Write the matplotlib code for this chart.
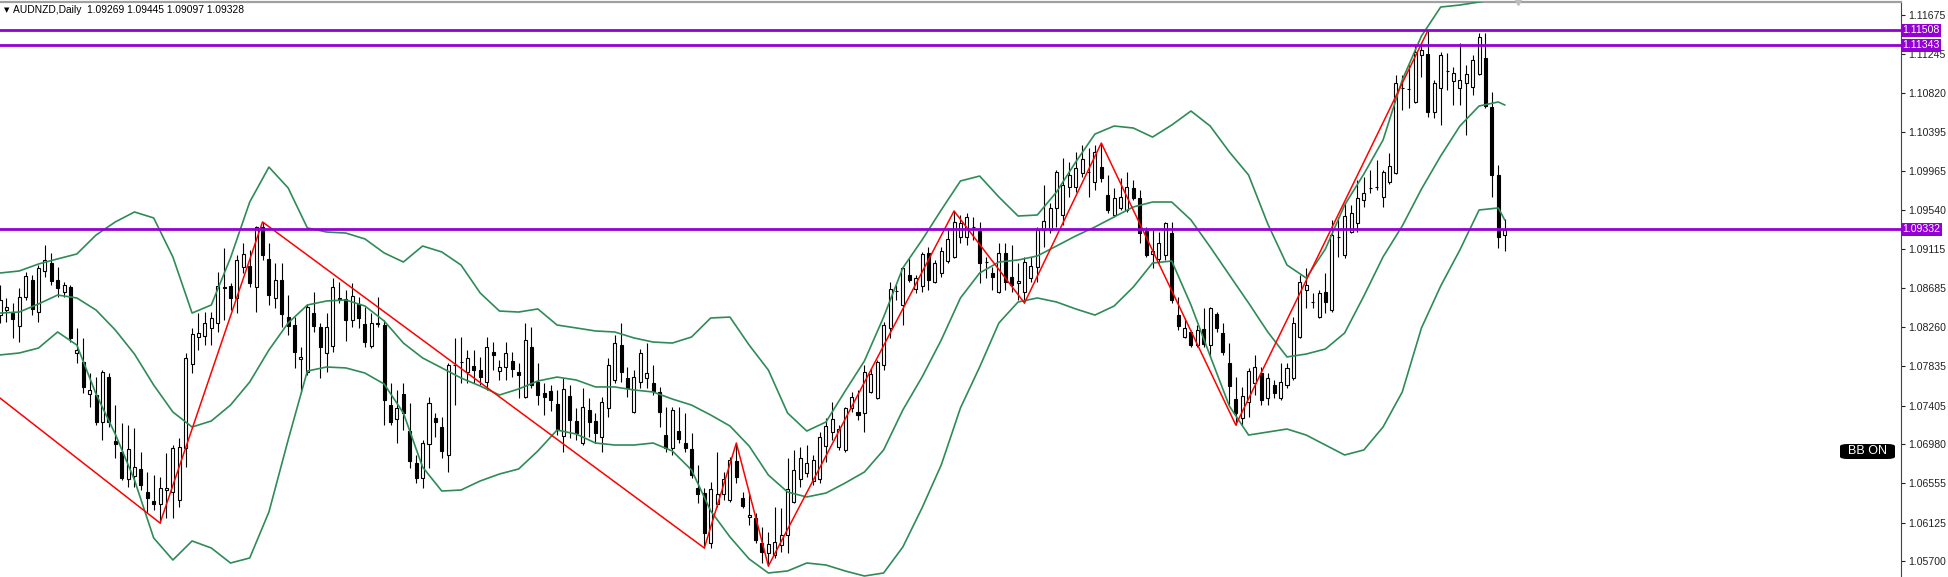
import numpy as np
import matplotlib.pyplot as plt
from matplotlib.patches import FancyBboxPatch

# AUDNZD daily candles (oldest first)
opens = [
    1.08394, 1.08449, 1.08416, 1.08274, 1.08591, 1.08777, 1.08427, 1.08876, 1.08963, 1.08777,
    1.08646, 1.08700, 1.07979, 1.07881, 1.07531, 1.07520, 1.07225, 1.07716, 1.07017, 1.06897,
    1.06602, 1.06634, 1.06711, 1.06459, 1.06361, 1.06328, 1.06481, 1.06459, 1.06372, 1.06941,
    1.07859, 1.08154, 1.08165, 1.08253, 1.08307, 1.08700, 1.08711, 1.08581, 1.08919, 1.08930,
    1.08700, 1.09357, 1.09008, 1.08581, 1.08777, 1.08372, 1.08285, 1.07914, 1.07771, 1.08416,
    1.08263, 1.07979, 1.08055, 1.08581, 1.08570, 1.08340, 1.08515, 1.08296, 1.08055, 1.08296,
    1.08285, 1.07410, 1.07258, 1.07531, 1.07126, 1.06776, 1.06613, 1.06984, 1.07269, 1.07170,
    1.06864, 1.07848, 1.07881, 1.07771, 1.07837, 1.07793, 1.07662, 1.07990, 1.07782, 1.07826,
    1.07892, 1.07771, 1.07498, 1.08044, 1.07662, 1.07542, 1.07564, 1.07421, 1.07072, 1.07509,
    1.07236, 1.06995, 1.07356, 1.07236, 1.07061, 1.07378, 1.07684, 1.08066, 1.07706, 1.07334,
    1.07662, 1.07706, 1.07651, 1.07553, 1.07082, 1.06941, 1.07126, 1.06995, 1.06930, 1.06504,
    1.06448, 1.05902, 1.06328, 1.06437, 1.06372, 1.06798, 1.06394, 1.06186, 1.06176, 1.05902,
    1.05792, 1.05770, 1.05880, 1.05989, 1.06350, 1.06602, 1.06667, 1.06580, 1.06602, 1.06962,
    1.07115, 1.06951, 1.06919, 1.07378, 1.07334, 1.07323, 1.07553, 1.07487, 1.07848, 1.08253,
    1.08657, 1.08504, 1.08832, 1.08679, 1.08711, 1.09073, 1.08755, 1.08854, 1.08985, 1.09030,
    1.09248, 1.09248, 1.09357, 1.09313, 1.08974, 1.08854, 1.08646, 1.09073, 1.08810, 1.08744,
    1.08646, 1.08799, 1.08919, 1.09324, 1.09324, 1.09565, 1.09488, 1.09794, 1.09794, 1.09947,
    1.09958, 1.09849, 1.10013, 1.09707, 1.09488, 1.09565, 1.09543, 1.09783, 1.09674, 1.09313,
    1.09062, 1.09008, 1.09051, 1.09291, 1.08394, 1.08154, 1.08209, 1.08066, 1.08242, 1.08066,
    1.08405, 1.08198, 1.07870, 1.07476, 1.07269, 1.07443, 1.07651, 1.07760, 1.07487, 1.07629,
    1.07487, 1.07629, 1.07706, 1.08154, 1.08668, 1.08537, 1.08372, 1.08646, 1.08449, 1.09248,
    1.09051, 1.09302, 1.09401, 1.09652, 1.09783, 1.09794, 1.09685, 1.09849, 1.09947, 1.10877,
    1.10866, 1.10724, 1.11237, 1.11248, 1.10614, 1.10877, 1.11063, 1.10953, 1.10877, 1.10931,
    1.10888, 1.11030, 1.11205, 1.10669, 1.09925, 1.09269,
]
highs = [
    1.08722, 1.08581, 1.08526, 1.08690, 1.08865, 1.08832, 1.08941, 1.09160, 1.09073, 1.08919,
    1.08755, 1.08722, 1.08253, 1.08144, 1.07760, 1.07716, 1.07793, 1.07760, 1.07410, 1.07214,
    1.07192, 1.07160, 1.06897, 1.06678, 1.06645, 1.06623, 1.06886, 1.06973, 1.07050, 1.07979,
    1.08253, 1.08416, 1.08427, 1.08427, 1.08865, 1.09128, 1.08744, 1.09051, 1.09182, 1.09106,
    1.09368, 1.09412, 1.09182, 1.08963, 1.08963, 1.08613, 1.08372, 1.08044, 1.08515, 1.08646,
    1.08307, 1.08416, 1.08799, 1.08755, 1.08668, 1.08744, 1.08591, 1.08482, 1.08416, 1.08591,
    1.08340, 1.07651, 1.07575, 1.07651, 1.07432, 1.06864, 1.07028, 1.07498, 1.07323, 1.07280,
    1.07870, 1.08144, 1.08154, 1.08012, 1.08012, 1.07936, 1.08154, 1.08099, 1.07903, 1.08099,
    1.07990, 1.07870, 1.08307, 1.08263, 1.07870, 1.07651, 1.07629, 1.07575, 1.07706, 1.07629,
    1.07378, 1.07597, 1.07487, 1.07323, 1.07498, 1.07925, 1.08176, 1.08307, 1.07826, 1.07793,
    1.08023, 1.08088, 1.07848, 1.07608, 1.07388, 1.07388, 1.07388, 1.07323, 1.07104, 1.06754,
    1.06504, 1.06569, 1.06897, 1.06678, 1.06842, 1.06995, 1.06459, 1.06459, 1.06230, 1.06077,
    1.06022, 1.06295, 1.06285, 1.06832, 1.06919, 1.06951, 1.06973, 1.06864, 1.07115, 1.07269,
    1.07443, 1.07192, 1.07388, 1.07553, 1.07575, 1.07848, 1.07816, 1.07903, 1.08318, 1.08755,
    1.08722, 1.08919, 1.09018, 1.08832, 1.09084, 1.09139, 1.08996, 1.09139, 1.09346, 1.09532,
    1.09488, 1.09510, 1.09467, 1.09412, 1.09030, 1.08919, 1.09182, 1.09182, 1.09160, 1.08963,
    1.09030, 1.09030, 1.09357, 1.09816, 1.09619, 1.09980, 1.10112, 1.10068, 1.10177, 1.10253,
    1.10221, 1.10253, 1.10275, 1.09925, 1.09783, 1.09893, 1.09958, 1.09871, 1.09761, 1.09357,
    1.09324, 1.09302, 1.09412, 1.09412, 1.08591, 1.08362, 1.08231, 1.08285, 1.08471, 1.08482,
    1.08427, 1.08307, 1.08088, 1.07716, 1.07608, 1.07816, 1.07958, 1.07826, 1.07760, 1.07684,
    1.07870, 1.07870, 1.08372, 1.08832, 1.08909, 1.08635, 1.08668, 1.08854, 1.09434, 1.09467,
    1.09619, 1.09597, 1.09871, 1.09904, 1.09980, 1.10089, 1.09980, 1.10166, 1.11019, 1.11019,
    1.11128, 1.11347, 1.11369, 1.11505, 1.10964, 1.11270, 1.11259, 1.11106, 1.11369, 1.11128,
    1.11237, 1.11478, 1.11478, 1.10833, 1.10035, 1.09445,
]
lows = [
    1.08307, 1.08318, 1.08144, 1.08099, 1.08559, 1.08394, 1.08318, 1.08810, 1.08722, 1.08591,
    1.08591, 1.08099, 1.07870, 1.07542, 1.07388, 1.07192, 1.07028, 1.07170, 1.06832, 1.06591,
    1.06514, 1.06514, 1.06481, 1.06230, 1.06263, 1.06120, 1.06176, 1.06176, 1.06295, 1.06732,
    1.07760, 1.08012, 1.08066, 1.08066, 1.08209, 1.08340, 1.08449, 1.08416, 1.08854, 1.08700,
    1.08427, 1.08996, 1.08504, 1.08471, 1.08263, 1.08176, 1.07816, 1.07542, 1.07738, 1.08209,
    1.07706, 1.07771, 1.07990, 1.08526, 1.08110, 1.08263, 1.08253, 1.08044, 1.08033, 1.08263,
    1.07192, 1.07192, 1.06995, 1.07137, 1.06722, 1.06558, 1.06504, 1.06722, 1.07061, 1.06832,
    1.06678, 1.07410, 1.07651, 1.07651, 1.07651, 1.07629, 1.07575, 1.07793, 1.07684, 1.07684,
    1.07716, 1.07487, 1.07487, 1.07597, 1.07410, 1.07301, 1.07345, 1.07082, 1.06897, 1.07050,
    1.07028, 1.06973, 1.07061, 1.06995, 1.06897, 1.07280, 1.07651, 1.07662, 1.07498, 1.07323,
    1.07597, 1.07597, 1.07520, 1.07170, 1.06897, 1.06864, 1.06995, 1.06897, 1.06613, 1.06339,
    1.05847, 1.05847, 1.06295, 1.06372, 1.06350, 1.06558, 1.06285, 1.06099, 1.05902, 1.05683,
    1.05650, 1.05738, 1.05803, 1.05792, 1.06339, 1.06514, 1.06624, 1.06536, 1.06558, 1.06787,
    1.07028, 1.06919, 1.06897, 1.07334, 1.07247, 1.07115, 1.07542, 1.07476, 1.07793, 1.08144,
    1.08559, 1.08285, 1.08755, 1.08635, 1.08646, 1.08668, 1.08744, 1.08810, 1.08963, 1.09019,
    1.09182, 1.09160, 1.09215, 1.08744, 1.08799, 1.08668, 1.08635, 1.08668, 1.08646, 1.08559,
    1.08526, 1.08755, 1.08755, 1.09139, 1.09291, 1.09357, 1.09379, 1.09685, 1.09740, 1.09904,
    1.09685, 1.09761, 1.09849, 1.09510, 1.09467, 1.09543, 1.09521, 1.09652, 1.09182, 1.09030,
    1.08909, 1.08963, 1.08996, 1.08526, 1.08231, 1.08144, 1.08044, 1.08044, 1.08044, 1.07936,
    1.08209, 1.07958, 1.07410, 1.07192, 1.07192, 1.07280, 1.07520, 1.07410, 1.07410, 1.07487,
    1.07465, 1.07597, 1.07684, 1.08144, 1.08471, 1.08471, 1.08362, 1.08416, 1.08427, 1.09030,
    1.09019, 1.09291, 1.09302, 1.09576, 1.09728, 1.09761, 1.09576, 1.09827, 1.09936, 1.10636,
    1.10658, 1.10713, 1.10997, 1.10560, 1.10549, 1.10472, 1.10855, 1.10691, 1.10691, 1.10363,
    1.10800, 1.11019, 1.10658, 1.09685, 1.09128, 1.09097,
]
closes = [
    1.08559, 1.08482, 1.08351, 1.08591, 1.08821, 1.08461, 1.08909, 1.08996, 1.08766, 1.08690,
    1.08722, 1.08144, 1.08012, 1.07607, 1.07575, 1.07225, 1.07771, 1.07225, 1.06984, 1.06613,
    1.06930, 1.06732, 1.06536, 1.06394, 1.06328, 1.06504, 1.06504, 1.06941, 1.06951, 1.07925,
    1.08187, 1.08198, 1.08307, 1.08362, 1.08711, 1.08695, 1.08581, 1.08996, 1.09062, 1.08744,
    1.09357, 1.09051, 1.08613, 1.08777, 1.08405, 1.08274, 1.07990, 1.07936, 1.08482, 1.08274,
    1.08044, 1.08263, 1.08700, 1.08575, 1.08340, 1.08602, 1.08362, 1.08099, 1.08307, 1.08307,
    1.07465, 1.07225, 1.07378, 1.07323, 1.06798, 1.06613, 1.06995, 1.07432, 1.07225, 1.06908,
    1.07848, 1.07843, 1.07876, 1.07925, 1.07793, 1.07716, 1.08044, 1.07958, 1.07826, 1.07979,
    1.07804, 1.07738, 1.08121, 1.07629, 1.07520, 1.07498, 1.07465, 1.07137, 1.07586, 1.07247,
    1.07104, 1.07388, 1.07225, 1.07104, 1.07443, 1.07848, 1.08088, 1.07771, 1.07597, 1.07716,
    1.07979, 1.07760, 1.07564, 1.07334, 1.06941, 1.07356, 1.07039, 1.06941, 1.06645, 1.06437,
    1.06011, 1.06492, 1.06437, 1.06602, 1.06809, 1.06624, 1.06306, 1.06208, 1.05935, 1.05803,
    1.05891, 1.05913, 1.05989, 1.06492, 1.06700, 1.06832, 1.06776, 1.06809, 1.07061, 1.07181,
    1.07258, 1.07148, 1.07378, 1.07498, 1.07301, 1.07771, 1.07749, 1.07881, 1.08285, 1.08679,
    1.08662, 1.08909, 1.08777, 1.08799, 1.09062, 1.08777, 1.08963, 1.09095, 1.09226, 1.09412,
    1.09401, 1.09467, 1.09352, 1.08963, 1.08969, 1.08810, 1.09073, 1.08755, 1.08722, 1.08766,
    1.08974, 1.08930, 1.09324, 1.09423, 1.09565, 1.09958, 1.09816, 1.09925, 1.10002, 1.10100,
    1.09953, 1.10177, 1.09893, 1.09543, 1.09674, 1.09685, 1.09794, 1.09674, 1.09291, 1.09051,
    1.09095, 1.09182, 1.09401, 1.08559, 1.08274, 1.08253, 1.08066, 1.08231, 1.08077, 1.08471,
    1.08253, 1.07990, 1.07618, 1.07323, 1.07509, 1.07782, 1.07826, 1.07465, 1.07706, 1.07542,
    1.07662, 1.07816, 1.08307, 1.08755, 1.08722, 1.08532, 1.08635, 1.08537, 1.09270, 1.09243,
    1.09477, 1.09510, 1.09674, 1.09728, 1.09778, 1.09789, 1.09958, 1.10024, 1.10931, 1.10872,
    1.10861, 1.11270, 1.11292, 1.10614, 1.10931, 1.11237, 1.11058, 1.11041, 1.10964, 1.11030,
    1.11183, 1.11435, 1.10680, 1.09925, 1.09248, 1.09328,
]

# Bollinger bands read every 3rd bar
band_idx = list(range(0, 235, 3)) + [235]
bb_upper = [
    1.08854, 1.08876, 1.08952, 1.09008, 1.09062, 1.09269, 1.09412, 1.09521, 1.09456, 1.09029,
    1.08416, 1.08504, 1.09019, 1.09630, 1.10012, 1.09784, 1.09347, 1.09302, 1.09291, 1.09226,
    1.09073, 1.08974, 1.09149, 1.09084, 1.08941, 1.08635, 1.08438, 1.08427, 1.08461, 1.08285,
    1.08253, 1.08220, 1.08209, 1.08144, 1.08099, 1.08088, 1.08154, 1.08362, 1.08372, 1.08066,
    1.07793, 1.07323, 1.07126, 1.07225, 1.07564, 1.07892, 1.08372, 1.08909, 1.09215, 1.09543,
    1.09860, 1.09914, 1.09685, 1.09477, 1.09488, 1.09739, 1.10067, 1.10373, 1.10461, 1.10439,
    1.10340, 1.10472, 1.10625, 1.10461, 1.10177, 1.09925, 1.09390, 1.08941, 1.08799, 1.09117,
    1.09597, 1.09936, 1.10308, 1.10964, 1.11445, 1.11762, 1.11784, 1.11817, 1.11850, 1.11872,
]
bb_middle = [
    1.08416, 1.08427, 1.08515, 1.08613, 1.08581, 1.08449, 1.08231, 1.07968, 1.07629, 1.07334,
    1.07170, 1.07236, 1.07410, 1.07662, 1.08012, 1.08307, 1.08504, 1.08548, 1.08559, 1.08493,
    1.08329, 1.08088, 1.07925, 1.07816, 1.07706, 1.07618, 1.07520, 1.07586, 1.07673, 1.07716,
    1.07684, 1.07608, 1.07608, 1.07575, 1.07553, 1.07476, 1.07410, 1.07301, 1.07181, 1.06962,
    1.06645, 1.06459, 1.06405, 1.06448, 1.06558, 1.06678, 1.06919, 1.07356, 1.07716, 1.08121,
    1.08581, 1.08854, 1.08974, 1.08996, 1.09040, 1.09149, 1.09259, 1.09357, 1.09467, 1.09576,
    1.09630, 1.09630, 1.09434, 1.09139, 1.08832, 1.08526, 1.08209, 1.07936, 1.07968, 1.08023,
    1.08198, 1.08602, 1.09030, 1.09368, 1.09772, 1.10133, 1.10461, 1.10680, 1.10724, 1.10691,
]
bb_lower = [
    1.07958, 1.07979, 1.08033, 1.08209, 1.08066, 1.07531, 1.07093, 1.06591, 1.05957, 1.05716,
    1.05924, 1.05847, 1.05683, 1.05738, 1.06241, 1.07028, 1.07782, 1.07826, 1.07816, 1.07760,
    1.07640, 1.07323, 1.06732, 1.06470, 1.06481, 1.06580, 1.06656, 1.06711, 1.06908, 1.07137,
    1.07093, 1.06995, 1.06973, 1.06973, 1.06995, 1.06908, 1.06700, 1.06252, 1.05968, 1.05727,
    1.05574, 1.05596, 1.05683, 1.05661, 1.05596, 1.05541, 1.05574, 1.05858, 1.06285, 1.06755,
    1.07378, 1.07826, 1.08307, 1.08537, 1.08581, 1.08537, 1.08461, 1.08394, 1.08493, 1.08701,
    1.08963, 1.08985, 1.08504, 1.07947, 1.07399, 1.07082, 1.07115, 1.07148, 1.07082, 1.06973,
    1.06864, 1.06919, 1.07170, 1.07553, 1.08253, 1.08711, 1.09106, 1.09543, 1.09565, 1.09434,
]

# zigzag pivots (bar index, price)
zz_idx = [0, 25, 41, 110, 115, 120, 149, 160, 172, 193, 223]
zz_price = [1.07487, 1.06120, 1.09412, 1.05847, 1.06995, 1.05650, 1.09532, 1.08526, 1.10275, 1.07192, 1.11505]

levels = [1.11508, 1.11343, 1.09332]
price_ticks = [1.11675, 1.11245, 1.10820, 1.10395, 1.09965, 1.09540, 1.09115, 1.08685,
               1.08260, 1.07835, 1.07405, 1.06980, 1.06555, 1.06125, 1.05700]

PURPLE = '#9400D3'
GREEN = '#2E8B57'
plt.rcParams['font.family'] = ['Liberation Sans', 'DejaVu Sans']

W, H = 1948, 577
fig = plt.figure(figsize=(W / 100, H / 100), dpi=100)
ax = fig.add_axes([0, 0, 1901 / W, 575 / H])

o = np.array(opens); h = np.array(highs); l = np.array(lows); c = np.array(closes)
idx = np.arange(len(o))
up = c >= o

ax.vlines(idx, l, h, color='black', lw=0.8, zorder=2)
ax.bar(idx[up], (c - o)[up], bottom=o[up], width=0.47, color='white',
       edgecolor='black', lw=0.8, zorder=3)
ax.bar(idx[~up], (o - c)[~up], bottom=c[~up], width=0.47, color='black',
       edgecolor='black', lw=0.8, zorder=3)

for band in (bb_upper, bb_middle, bb_lower):
    ax.plot(band_idx, band, color=GREEN, lw=1.2, zorder=4)

ax.plot(zz_idx, zz_price, color='red', lw=1.1, zorder=5)

for lv in levels:
    ax.axhline(lv, color=PURPLE, lw=2, zorder=6)

ax.set_xlim(0, 1901 / 6.403)
ax.set_ylim(1.05530, 1.11817)
ax.set_xticks([])

ax.yaxis.tick_right()
ax.set_yticks(price_ticks)
ax.set_yticklabels([f'{t:.5f}' for t in price_ticks])
ax.tick_params(axis='y', length=3, width=0.8, pad=2, labelsize=7.6, colors='#222222')

for side in ('left', 'bottom'):
    ax.spines[side].set_visible(False)
ax.spines['right'].set_color('#444444')
ax.spines['top'].set_color('#a0a0a0')
ax.spines['top'].set_linewidth(1.6)

# grey chart-shift marker at the top edge
ax.plot([237], [1.11817], marker='v', ms=5, color='#bdbdbd', clip_on=False, zorder=7)

# level price tags on the axis
for lv in levels:
    ax.text(1.0008, lv, f'{lv:.5f}', transform=ax.get_yaxis_transform(),
            ha='left', va='center', fontsize=7.6, color='white', zorder=10,
            clip_on=False,
            bbox=dict(boxstyle='square,pad=0.12', fc=PURPLE, ec='none'))

# "BB ON" badge
badge = FancyBboxPatch((1840 / W, 1 - 459 / H), 55 / W, 15 / H,
                       boxstyle='round,pad=0,rounding_size=0.004',
                       transform=fig.transFigure, fc='black', ec='none')
fig.patches.append(badge)
fig.text(1867.5 / W, 1 - 451.5 / H, 'BB ON', ha='center', va='center', fontsize=9,
         color='white')

fig.text(4 / W, 1 - 10 / H, '\u25bc', ha='left', va='center', fontsize=5, color='black',
         family=['DejaVu Sans'])
fig.text(13 / W, 1 - 10 / H,
         f'AUDNZD,Daily  {opens[-1]:.5f} {highs[-1]:.5f} {lows[-1]:.5f} {closes[-1]:.5f}',
         ha='left', va='center', fontsize=7.4, color='black')

fig.savefig('out.png', dpi=100)
